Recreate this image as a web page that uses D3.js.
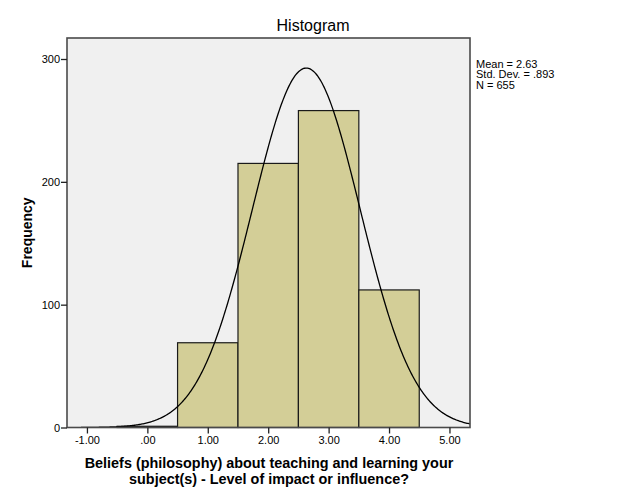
<!DOCTYPE html>
<html>
<head>
<meta charset="utf-8">
<script src="https://cdn.jsdelivr.net/npm/d3@7"></script>
<style>
  body { margin: 0; background: #fff; }
  svg { display: block; font-family: Arial, "Liberation Sans", sans-serif; }
</style>
</head>
<body>
<svg id="chart" width="629" height="504"></svg>
<script>
// Data
const binStarts = [-0.5, 0.5, 1.5, 2.5, 3.5];
const binWidth = 1;
const frequencies = [1, 69, 215, 258, 112];
const xTicks = [-1, 0, 1, 2, 3, 4, 5];
const xTickLabels = ["-1.00", ".00", "1.00", "2.00", "3.00", "4.00", "5.00"];
const yTicks = [0, 100, 200, 300];
const stats = { mean: 2.63, sd: 0.893, n: 655 };
const statsLines = ["Mean = 2.63", "Std. Dev. = .893", "N = 655"];
const titleText = "Histogram";
const yLabel = "Frequency";
const xLabelLines = ["Beliefs (philosophy) about teaching and learning your", "subject(s) - Level of impact or influence?"];

const svg = d3.select("#chart");
const m = { left: 67, right: 470, top: 38, bottom: 427.5 };

const x = d3.scaleLinear().domain([-1.33, 5.34]).range([m.left, m.right]);
const y = d3.scaleLinear().domain([0, 300]).range([m.bottom, 59]);

// background
svg.append("rect")
  .attr("x", m.left).attr("y", m.top)
  .attr("width", m.right - m.left).attr("height", m.bottom - m.top)
  .attr("fill", "#f0f0f0");

// bars
svg.append("g").selectAll("rect")
  .data(frequencies)
  .join("rect")
  .attr("x", (d, i) => x(binStarts[i]))
  .attr("width", (d, i) => x(binStarts[i] + binWidth) - x(binStarts[i]))
  .attr("y", d => y(d))
  .attr("height", d => y(0) - y(d))
  .attr("fill", "#d3ce97")
  .attr("stroke", "#1a1a1a")
  .attr("stroke-width", 1.2);

// normal curve
const pts = d3.range(0, 401).map(i => {
  const xv = -1.1 + (5.34 + 1.1) * i / 400;
  const z = (xv - stats.mean) / stats.sd;
  const yv = stats.n * binWidth / (stats.sd * Math.sqrt(2 * Math.PI)) * Math.exp(-0.5 * z * z);
  return [xv, yv];
});
svg.append("path")
  .datum(pts)
  .attr("fill", "none")
  .attr("stroke", "#000")
  .attr("stroke-width", 1.3)
  .attr("d", d3.line().x(d => x(d[0])).y(d => y(d[1])));

// frame
svg.append("rect")
  .attr("x", m.left).attr("y", m.top)
  .attr("width", m.right - m.left).attr("height", m.bottom - m.top)
  .attr("fill", "none")
  .attr("stroke", "#4a4a4a")
  .attr("stroke-width", 1.6);

// axes
const xAxis = d3.axisBottom(x).tickValues(xTicks)
  .tickFormat((d, i) => xTickLabels[i]).tickSize(6).tickPadding(3);
const gx = svg.append("g").attr("transform", `translate(0,${m.bottom})`).call(xAxis);
gx.select(".domain").remove();
gx.selectAll(".tick line").attr("stroke", "#222").attr("stroke-width", 1.3);
gx.selectAll(".tick text").attr("font-size", "11px").attr("fill", "#000")
  .attr("font-family", "Arial, 'Liberation Sans', sans-serif");

const yAxis = d3.axisLeft(y).tickValues(yTicks).tickSize(6).tickPadding(1);
const gy = svg.append("g").attr("transform", `translate(${m.left},0)`).call(yAxis);
gy.select(".domain").remove();
gy.selectAll(".tick line").attr("stroke", "#222").attr("stroke-width", 1.3);
gy.selectAll(".tick text").attr("font-size", "11px").attr("fill", "#000")
  .attr("font-family", "Arial, 'Liberation Sans', sans-serif");

// title
svg.append("text")
  .attr("x", 313).attr("y", 31)
  .attr("text-anchor", "middle")
  .attr("font-size", "16px")
  .attr("fill", "#000")
  .text(titleText);

// y label
svg.append("text")
  .attr("transform", `translate(32,${(m.top + m.bottom) / 2}) rotate(-90)`)
  .attr("text-anchor", "middle")
  .attr("font-size", "14px")
  .attr("font-weight", "bold")
  .attr("fill", "#000")
  .text(yLabel);

// x label (two lines)
xLabelLines.forEach((line, i) => {
  svg.append("text")
    .attr("x", 269)
    .attr("y", 467.5 + i * 16)
    .attr("text-anchor", "middle")
    .attr("font-size", "14.4px")
    .attr("font-weight", "bold")
    .attr("fill", "#000")
    .text(line);
});

// stats
statsLines.forEach((line, i) => {
  svg.append("text")
    .attr("x", 476)
    .attr("y", 67.5 + i * 10.5)
    .attr("font-size", "11px")
    .attr("fill", "#000")
    .text(line);
});
</script>
</body>
</html>
